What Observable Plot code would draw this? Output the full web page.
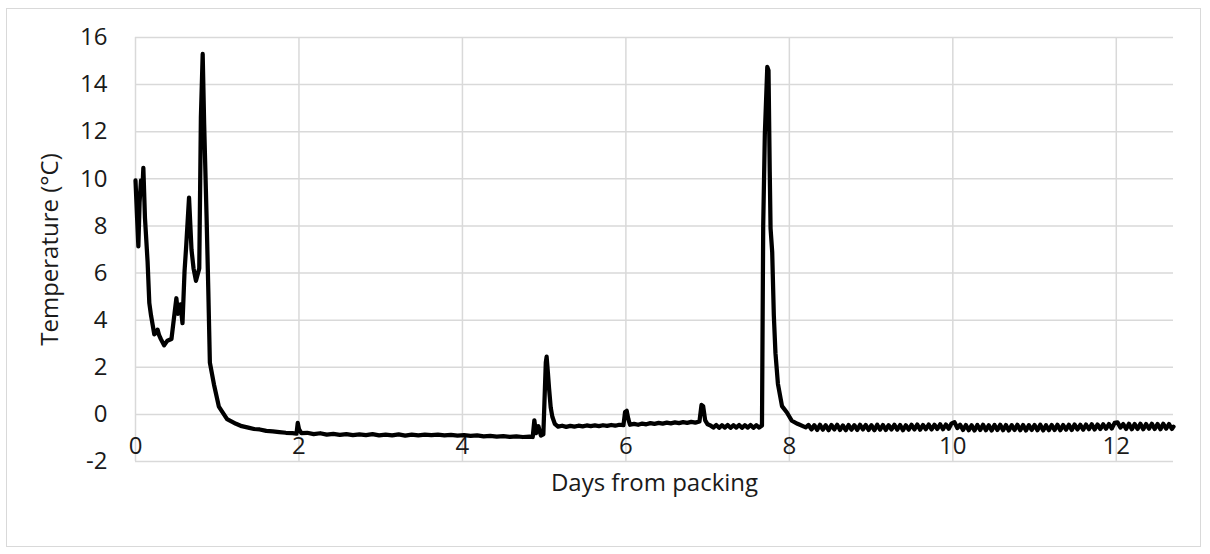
<!DOCTYPE html>
<html><head><meta charset="utf-8">
<script src="https://cdn.jsdelivr.net/npm/d3@7"></script>
<script src="https://cdn.jsdelivr.net/npm/@observablehq/plot@0.6"></script>
<style>
html,body{margin:0;padding:0;background:#fff;}
#wrap{position:relative;width:1210px;height:554px;}
#border{position:absolute;left:6px;top:8px;width:1195px;height:539px;border:1px solid #d9d9d9;box-sizing:border-box;pointer-events:none}
</style></head><body><div id="wrap"><div id="border"></div></div>
<script>
// Precooling phase (day 0 to ~1.25)
const precoolDays  = [0.0, 0.02, 0.035, 0.05, 0.067, 0.085, 0.096, 0.116, 0.148, 0.169, 0.19, 0.21, 0.23, 0.25, 0.27, 0.29, 0.31, 0.35, 0.39, 0.44, 0.47, 0.50, 0.52, 0.55, 0.575, 0.60, 0.62, 0.655, 0.685, 0.71, 0.74, 0.78, 0.80, 0.822, 0.84, 0.87, 0.89, 0.91, 0.96, 1.02, 1.12];
const precoolTemps = [9.93, 8.3, 7.13, 9.0, 9.93, 9.6, 10.47, 8.33, 6.47, 4.73, 4.2, 3.8, 3.4, 3.45, 3.6, 3.35, 3.2, 2.93, 3.13, 3.2, 4.07, 4.93, 4.27, 4.67, 3.87, 6.07, 7.13, 9.2, 7.0, 6.2, 5.67, 6.2, 12.6, 15.3, 12.33, 8.33, 5.4, 2.2, 1.27, 0.33, -0.2];
// Storage, first period (~1.2 to 4.86)
const storeADays  = [1.23, 1.30, 1.38, 1.45, 1.52, 1.60, 1.68, 1.76, 1.84, 1.92, 1.97, 1.985, 2.00, 2.03, 2.10, 2.18, 2.26, 2.34, 2.42, 2.50, 2.58, 2.66, 2.74, 2.82, 2.90, 2.98, 3.06, 3.14, 3.22, 3.30, 3.38, 3.46, 3.54, 3.62, 3.70, 3.78, 3.86, 3.94, 4.02, 4.10, 4.18, 4.26, 4.34, 4.42, 4.50, 4.58, 4.66, 4.74, 4.82, 4.86];
const storeATemps = [-0.40, -0.50, -0.56, -0.62, -0.64, -0.70, -0.72, -0.75, -0.78, -0.80, -0.82, -0.36, -0.62, -0.80, -0.78, -0.84, -0.80, -0.86, -0.83, -0.87, -0.84, -0.88, -0.85, -0.88, -0.84, -0.89, -0.86, -0.89, -0.85, -0.90, -0.86, -0.89, -0.86, -0.88, -0.86, -0.89, -0.87, -0.90, -0.88, -0.91, -0.89, -0.93, -0.91, -0.94, -0.92, -0.95, -0.93, -0.96, -0.94, -0.96];
// Transfer around day 5 and second storage period (to ~7.67)
const storeBDays  = [4.88, 4.90, 4.93, 4.96, 4.99, 5.02, 5.03, 5.045, 5.06, 5.08, 5.10, 5.13, 5.17, 5.22, 5.27, 5.32, 5.37, 5.42, 5.47, 5.52, 5.57, 5.62, 5.67, 5.72, 5.77, 5.82, 5.87, 5.92, 5.97, 5.99, 6.01, 6.03, 6.05, 6.10, 6.15, 6.20, 6.25, 6.30, 6.35, 6.40, 6.45, 6.50, 6.55, 6.60, 6.65, 6.70, 6.75, 6.80, 6.85, 6.90, 6.925, 6.945, 6.97, 7.00, 7.035, 7.07, 7.105, 7.14, 7.175, 7.21, 7.245, 7.28, 7.315, 7.35, 7.385, 7.42, 7.455, 7.49, 7.525, 7.56, 7.595, 7.63, 7.665];
const storeBTemps = [-0.25, -0.80, -0.50, -0.90, -0.85, 2.2, 2.45, 1.8, 1.1, 0.3, -0.1, -0.40, -0.52, -0.48, -0.53, -0.49, -0.52, -0.48, -0.51, -0.47, -0.50, -0.47, -0.50, -0.46, -0.49, -0.45, -0.48, -0.44, -0.46, 0.10, 0.15, -0.20, -0.44, -0.40, -0.44, -0.39, -0.42, -0.37, -0.40, -0.36, -0.39, -0.35, -0.38, -0.34, -0.37, -0.33, -0.36, -0.32, -0.35, -0.30, 0.40, 0.35, -0.25, -0.42, -0.47, -0.56, -0.45, -0.57, -0.46, -0.56, -0.45, -0.57, -0.46, -0.56, -0.45, -0.57, -0.46, -0.56, -0.45, -0.57, -0.46, -0.56, -0.47];
// Second excursion near day 7.7
const excursionDays  = [7.68, 7.70, 7.73, 7.745, 7.76, 7.77, 7.79, 7.81, 7.83, 7.86, 7.91, 7.97, 8.03, 8.10];
const excursionTemps = [8.0, 11.9, 14.75, 14.6, 10.3, 7.9, 6.9, 4.2, 2.6, 1.3, 0.35, 0.08, -0.27, -0.40];
// Final storage with cycling (8.2 to 12.7)
const finalDays  = [8.200, 8.235, 8.270, 8.305, 8.340, 8.375, 8.410, 8.445, 8.480, 8.515, 8.550, 8.585, 8.620, 8.655, 8.690, 8.725, 8.760, 8.795, 8.830, 8.865, 8.900, 8.935, 8.970, 9.005, 9.040, 9.075, 9.110, 9.145, 9.180, 9.215, 9.250, 9.285, 9.320, 9.355, 9.390, 9.425, 9.460, 9.495, 9.530, 9.565, 9.600, 9.635, 9.670, 9.705, 9.740, 9.775, 9.810, 9.845, 9.880, 9.915, 9.950, 9.985, 10.020, 10.055, 10.090, 10.125, 10.160, 10.195, 10.230, 10.265, 10.300, 10.335, 10.370, 10.405, 10.440, 10.475, 10.510, 10.545, 10.580, 10.615, 10.650, 10.685, 10.720, 10.755, 10.790, 10.825, 10.860, 10.895, 10.930, 10.965, 11.000, 11.035, 11.070, 11.105, 11.140, 11.175, 11.210, 11.245, 11.280, 11.315, 11.350, 11.385, 11.420, 11.455, 11.490, 11.525, 11.560, 11.595, 11.630, 11.665, 11.700, 11.735, 11.770, 11.805, 11.840, 11.875, 11.910, 11.945, 11.980, 12.015, 12.050, 12.085, 12.120, 12.155, 12.190, 12.225, 12.260, 12.295, 12.330, 12.365, 12.400, 12.435, 12.470, 12.505, 12.540, 12.575, 12.610, 12.645, 12.680, 12.700];
const finalTemps = [-0.55, -0.45, -0.64, -0.46, -0.66, -0.44, -0.65, -0.46, -0.67, -0.45, -0.64, -0.44, -0.66, -0.47, -0.67, -0.45, -0.65, -0.46, -0.66, -0.44, -0.64, -0.45, -0.66, -0.46, -0.67, -0.44, -0.65, -0.45, -0.66, -0.46, -0.64, -0.44, -0.65, -0.45, -0.67, -0.46, -0.65, -0.44, -0.64, -0.43, -0.65, -0.45, -0.63, -0.43, -0.64, -0.44, -0.62, -0.42, -0.63, -0.43, -0.61, -0.38, -0.33, -0.58, -0.44, -0.66, -0.45, -0.67, -0.46, -0.68, -0.45, -0.66, -0.44, -0.67, -0.46, -0.68, -0.45, -0.66, -0.44, -0.67, -0.45, -0.68, -0.46, -0.66, -0.44, -0.67, -0.45, -0.68, -0.46, -0.66, -0.45, -0.67, -0.44, -0.68, -0.46, -0.67, -0.45, -0.66, -0.44, -0.67, -0.45, -0.65, -0.44, -0.66, -0.43, -0.64, -0.44, -0.65, -0.43, -0.63, -0.42, -0.64, -0.43, -0.62, -0.42, -0.61, -0.41, -0.60, -0.36, -0.34, -0.56, -0.41, -0.62, -0.40, -0.63, -0.41, -0.62, -0.40, -0.63, -0.41, -0.61, -0.40, -0.62, -0.41, -0.63, -0.40, -0.61, -0.41, -0.62, -0.52];

const xTicks = [0, 2, 4, 6, 8, 10, 12];
const yTicks = [-2, 0, 2, 4, 6, 8, 10, 12, 14, 16];
const xTitle = "Days from packing";
const yTitle = "Temperature (°C)";

const allDays = [...precoolDays, ...storeADays, ...storeBDays, ...excursionDays, ...finalDays];
const allTemps = [...precoolTemps, ...storeATemps, ...storeBTemps, ...excursionTemps, ...finalTemps];
const data = allDays.map((d, i) => ({day: d, temp: allTemps[i]}));

const FS = 24;
const ink = "#1a1a1a";
const chart = Plot.plot({
  width: 1210, height: 554,
  marginLeft: 135, marginRight: 37, marginTop: 37, marginBottom: 93,
  style: {fontFamily: "'Open Sans', sans-serif", fontSize: FS + "px", color: ink, background: "transparent"},
  x: {domain: [0, 12.7], axis: null},
  y: {domain: [-2, 16], axis: null},
  marks: [
    Plot.gridX(xTicks, {stroke: "#d9d9d9", strokeOpacity: 1, strokeWidth: 1.5}),
    Plot.gridY(yTicks, {stroke: "#d9d9d9", strokeOpacity: 1, strokeWidth: 1.5}),
    Plot.text(yTicks, {y: d => d, text: d => String(d), frameAnchor: "left", dx: -28, textAnchor: "end", fontSize: FS, fill: ink}),
    Plot.text(xTicks, {x: d => d, text: d => String(d), frameAnchor: "bottom", dy: -8, textAnchor: "middle", fontSize: FS, fill: ink}),
    Plot.text([yTitle], {frameAnchor: "left", dx: -85, rotate: -90, textAnchor: "middle", fontSize: FS, fill: ink}),
    Plot.text([xTitle], {frameAnchor: "bottom", dy: 29, textAnchor: "middle", fontSize: FS, fill: ink}),
    Plot.line(data, {x: "day", y: "temp", stroke: "#000", strokeWidth: 4.25, strokeLinejoin: "round", strokeLinecap: "round"})
  ]
});
document.getElementById("wrap").appendChild(chart);
chart.style.position = "absolute";
chart.style.left = "0px";
chart.style.top = "0px";
</script>
</body></html>
